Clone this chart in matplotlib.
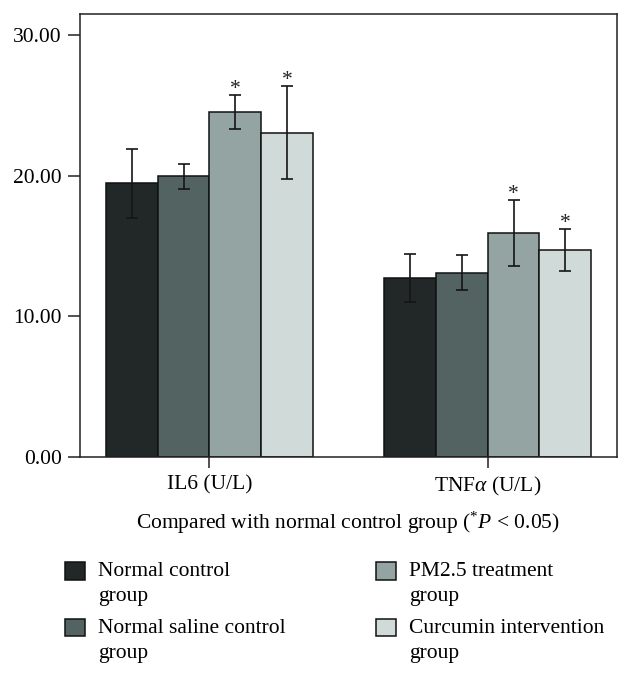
import numpy as np
import matplotlib
matplotlib.use("Agg")
import matplotlib.pyplot as plt

# values (mean and SD, U/L)
markers = ["IL6 (U/L)", "TNF$\\alpha$ (U/L)"]
groups = ["Normal control\ngroup", "Normal saline control\ngroup",
          "PM2.5 treatment\ngroup", "Curcumin intervention\ngroup"]
colors = ["#222827", "#536362", "#93a4a3", "#d0dad9"]
means = [[19.45, 12.7],
         [19.95, 13.1],
         [24.5, 15.9],
         [23.05, 14.7]]
sds = [[2.47, 1.70],
       [0.90, 1.25],
       [1.22, 2.33],
       [3.32, 1.47]]
signif = [[False, False],
          [False, False],
          [True, True],
          [True, True]]

plt.rcParams['font.family'] = ['Liberation Serif', 'DejaVu Serif']
plt.rcParams['mathtext.fontset'] = 'custom'
plt.rcParams['mathtext.rm'] = 'Liberation Serif'
plt.rcParams['mathtext.it'] = 'Liberation Serif:italic'
fs = 15.5

fig = plt.figure(figsize=(6.32, 6.78), dpi=100)
ax = fig.add_axes([0.1258, 0.3264, 0.851, 0.653])

x = np.arange(len(markers))
w = 0.186
for i in range(len(groups)):
    xs = x + (i - 1.5) * w
    ax.bar(xs, means[i], w, color=colors[i], edgecolor="#111111", linewidth=1.1,
           label=groups[i], zorder=2)
    ax.errorbar(xs, means[i], yerr=sds[i], fmt="none", ecolor="#151515",
                elinewidth=1.2, capsize=4.3, capthick=1.2, zorder=3)
    for j in range(len(markers)):
        if signif[i][j]:
            ax.annotate("*", (xs[j], means[i][j] + sds[i][j]), xytext=(0, 1),
                        textcoords="offset points", ha="center", va="baseline",
                        fontsize=fs, color="#222222")

ax.set_xlim(-0.467, 1.466)
ax.set_ylim(0, 31.49)
ax.set_yticks([0, 10, 20, 30])
ax.set_yticklabels(["%.2f" % v for v in [0, 10, 20, 30]], fontsize=fs)
ax.set_xticks(x)
ax.set_xticklabels(markers, fontsize=fs)
ax.tick_params(axis="y", length=8.3, width=1.1, pad=4.5, color="#222222")
ax.tick_params(axis="x", length=8, width=1.1, pad=5.5, color="#222222")
for s in ax.spines.values():
    s.set_linewidth(1.1)
    s.set_color("#222222")
ax.set_xlabel("Compared with normal control group ($^{*}P$ < 0.05)", fontsize=fs, labelpad=8)

handles, labels = ax.get_legend_handles_labels()
cols = [(65, 562), (376, 562)]
for k, (px, py) in enumerate(cols):
    leg = fig.legend(handles[2 * k:2 * k + 2], labels[2 * k:2 * k + 2],
                     loc="upper left", bbox_to_anchor=(px / 632, 1 - py / 678),
                     frameon=False, fontsize=fs, borderpad=0, borderaxespad=0,
                     handlelength=0.93, handleheight=0.88, handletextpad=0.6,
                     labelspacing=0.58)
    for t in leg.get_texts():
        t.set_linespacing(1.45)
    for col in leg._legend_handle_box.get_children():
        for item in col.get_children():
            item.align = "top"

fig.savefig("out.png", dpi=100)
